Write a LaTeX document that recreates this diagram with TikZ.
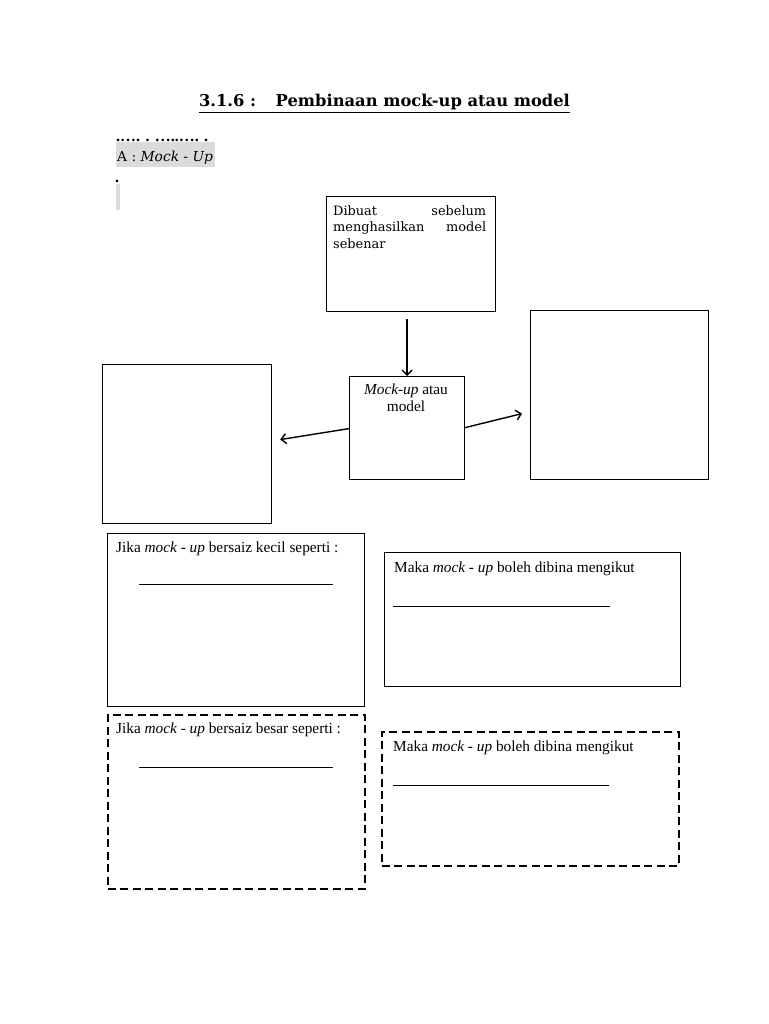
\documentclass[tikz,border=0pt]{standalone}
\usepackage{fontspec}
\setmainfont{Liberation Serif}
\newfontfamily\dv{DejaVu Serif}
\usetikzlibrary{arrows.meta}
\begin{document}
\begin{tikzpicture}[x=1pt,y=-1pt,
  box/.style={draw=black,line width=1.2pt,anchor=north west,inner sep=0pt},
  dbox/.style={box,line width=1.5pt,dash pattern=on 8pt off 4.5pt},
  arr/.style={line width=1.4pt,-{Straight Barb[length=5pt,width=10pt,line width=1.4pt]}},
  blank/.style={draw=black,line width=0.8pt},
  txt/.style={anchor=base west,inner sep=0pt,font=\fontsize{15.3}{17}\selectfont}]
\useasboundingbox[fill=white] (0,0) rectangle (768,1024);
% title
\node[anchor=base,inner sep=0pt,font=\dv\bfseries\fontsize{16.3}{18}\selectfont] (title) at (384.5,107)
  {\underline{3.1.6 :\hspace{1.2em}Pembinaan mock-up atau model}};
\node[anchor=base west,inner sep=0pt,font=\bfseries\fontsize{16}{16}\selectfont] (dots) at (116,142) {.…. . …..…. .};
\fill[gray!28] (116,142) rectangle (215,167);
\node[anchor=base west,inner sep=0pt,font=\dv\fontsize{13.8}{15}\selectfont] (secA) at (117,162) {A : \textit{Mock - Up}};
\node[anchor=base west,inner sep=0pt,font=\bfseries\fontsize{16}{16}\selectfont] (dot2) at (115,183) {.};
\fill[gray!28] (116,184) rectangle (120,210);
% diagram boxes
\node[box,minimum width=169pt,minimum height=115pt] (top) at (326,196) {};
\node[anchor=base west,inner sep=0pt,text width=153pt,align=left,font=\dv\fontsize{12.9}{16.5}\selectfont] (toptxt) at (333,215)
  {Dibuat\hfill sebelum\\menghasilkan\hfill model\\sebenar};
\node[box,minimum width=115pt,minimum height=103pt] (mid) at (349,376) {};
\node[anchor=base,inner sep=0pt,font=\fontsize{15.3}{17}\selectfont] (midtxt1) at (406,394) {\textit{Mock-up} atau};
\node[anchor=base,inner sep=0pt,font=\fontsize{15.3}{17}\selectfont] (midtxt2) at (406,411) {model};
\node[box,minimum width=169pt,minimum height=159pt] (left) at (102,364) {};
\node[box,minimum width=178pt,minimum height=169pt] (right) at (530,310) {};
\draw[arr] ([yshift=-7pt]mid.north |- top.south) -- (mid.north);
\draw[arr] ([yshift=-0.5pt]mid.west) -- ([xshift=8pt,yshift=4.5pt]left.east);
\draw[arr] ([yshift=0.5pt]mid.east) -- ([xshift=-8pt,yshift=-18.5pt]right.west);
% lower boxes
\node[box,minimum width=257pt,minimum height=173pt] (jk) at (107,533) {};
\node[txt] (jktxt) at (116,552) {Jika \textit{mock - up} bersaiz kecil seperti :};
\coordinate (jkA) at (139,584); \coordinate (jkB) at (333,584);
\draw[blank] (jkA) -- (jkB);
\node[box,minimum width=296pt,minimum height=134pt] (mk1) at (384,552) {};
\node[txt] (mk1txt) at (394,572) {Maka \textit{mock - up} boleh dibina mengikut};
\coordinate (mk1A) at (393,606); \coordinate (mk1B) at (610,606);
\draw[blank] (mk1A) -- (mk1B);
\node[dbox,minimum width=257pt,minimum height=174pt] (jb) at (107,714) {};
\node[txt] (jbtxt) at (116,733) {Jika \textit{mock - up} bersaiz besar seperti :};
\coordinate (jbA) at (139,767); \coordinate (jbB) at (333,767);
\draw[blank] (jbA) -- (jbB);
\node[dbox,minimum width=297pt,minimum height=134pt] (mk2) at (381,731) {};
\node[txt] (mk2txt) at (393,751) {Maka \textit{mock - up} boleh dibina mengikut};
\coordinate (mk2A) at (393,785); \coordinate (mk2B) at (609,785);
\draw[blank] (mk2A) -- (mk2B);
\end{tikzpicture}
\end{document}
